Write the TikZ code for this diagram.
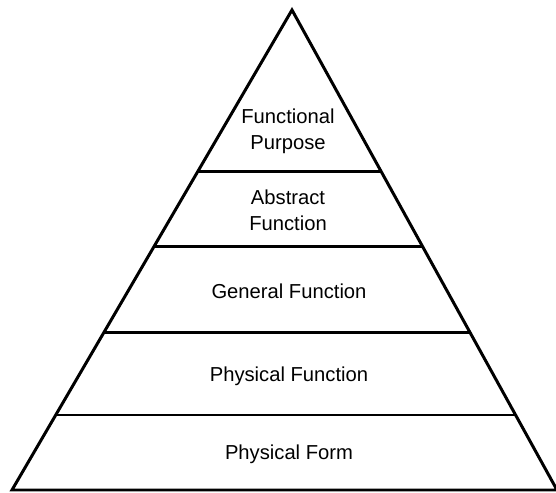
\documentclass[tikz,border=0pt]{standalone}
\usepackage{fontspec}
\setmainfont{Liberation Sans}
\usetikzlibrary{calc}
\begin{document}
\begin{tikzpicture}[x=0.02cm, y=-0.02cm, line width=1.7pt,
    layer/.style={align=center, font=\fontsize{11.5}{14.8}\selectfont}]
        \useasboundingbox (0,0) rectangle (556,493);

        % Pyramid corners
        \coordinate (apex) at (292,10);
        \coordinate (bl) at (12,490);
        \coordinate (br) at (557,490);

        % Outline
        \draw[line join=miter] (apex) -- (bl) -- (br) -- cycle;

        % Layer borders
        \foreach \t/\n in {0.3375/a, 0.49375/b, 0.6729/c, 0.84375/d} {
            \coordinate (l\n) at ($(apex)!\t!(bl)$);
            \coordinate (r\n) at ($(apex)!\t!(br)$);
            \draw (l\n) -- (r\n);
        }

        % Labels
        \node[layer] (purpose) at (288,131) {Functional\\Purpose};
        \node[layer] (abstract) at (288,210) {Abstract\\Function};
        \node[layer] (general) at (289,291) {General Function};
        \node[layer] (physfunc) at (289,376) {Physical Function};
        \node[layer] (physform) at (289,454) {Physical Form};
    \end{tikzpicture}
\end{document}
